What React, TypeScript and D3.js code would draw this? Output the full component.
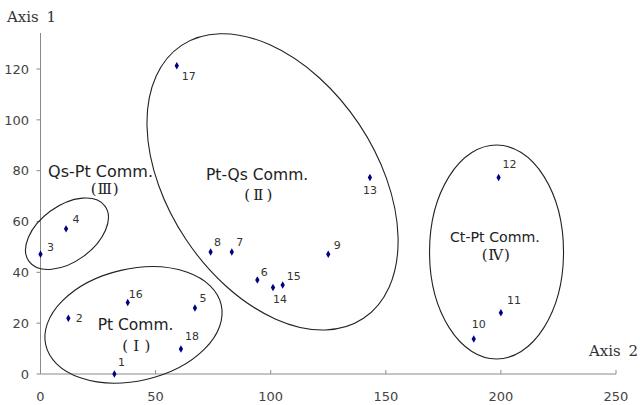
import React from "react";
import * as d3 from "d3";

// ---- data ----
const pointIds = ["1","2","3","4","5","6","7","8","9","10","11","12","13","14","15","16","17","18"];
const axis2Values = [32.1, 12.1, 0, 11.1, 67.1, 94.2, 83.1, 73.9, 125, 188.2, 200, 199, 143.1, 101, 105.2, 37.9, 59.2, 61];
const axis1Values = [0, 21.9, 47.1, 57.1, 26, 37, 48, 48, 47.1, 13.8, 24.1, 77.3, 77.3, 34, 35, 28.1, 121.3, 9.8];

const xTicks = [0, 50, 100, 150, 200, 250];
const yTicks = [0, 20, 40, 60, 80, 100, 120];

const groupNames = ["Pt Comm.", "Pt-Qs Comm.", "Qs-Pt Comm.", "Ct-Pt Comm."];
const groupNumerals = ["(\u2160)", "(\u2161)", "(\u2162)", "(\u2163)"];
// ellipse centres in data units (Axis 2, Axis 1)
const groupCenterX = [40.4, 100.8, 11.5, 198.1];
const groupCenterY = [19.3, 75.6, 55.2, 48.0];
// label anchors in data units
const nameX = [41.3, 94.1, 26.1, 197.4];
const nameY = [19.7, 78.6, 79.8, 53.8];
const numX = [41.6, 94.6, 27.9, 197.8];
const numY = [11.2, 70.5, 72.8, 46.9];

// ---- layout / style ----
const W = 640, H = 405;
const ellipseShape = [
  { rx: 90, ry: 56, rot: -13 },
  { rx: 164, ry: 104, rot: 56.3 },
  { rx: 47, ry: 28, rot: -36 },
  { rx: 67, ry: 107, rot: 0 },
];
const nameFontSize = [15.5, 15.5, 16, 14.2];
const labelOffsets: Record<string, [number, number]> = {
  "1": [7, -12], "2": [11, 0], "3": [10, -7], "4": [10, -10], "5": [8, -10],
  "6": [7, -8], "7": [8, -10], "8": [7, -10], "9": [9, -9], "10": [5, -15],
  "11": [13, -13], "12": [11, -13], "13": [0, 13], "14": [7, 11], "15": [11, -9],
  "16": [8, -9], "17": [12, 10], "18": [11, -13],
};

export default function App() {
  const x = d3.scaleLinear().domain([0, 250]).range([40.5, 616]);
  const y = d3.scaleLinear().domain([0, 120]).range([374, 69]);
  const yTop = 33;
  const diamond = d3.symbol().type(d3.symbolDiamond).size(16)() as string;
  const axisColor = "#8a8a8a";
  const sans = "'DejaVu Sans', sans-serif";
  const serif = "'DejaVu Serif', serif";

  return (
    <svg width={W} height={H} style={{ position: "absolute", left: 0, top: 0, background: "#fff" }}>
      {/* axes */}
      <line x1={x(0)} x2={x(250)} y1={y(0)} y2={y(0)} stroke={axisColor} strokeWidth={1} />
      <line x1={x(0)} x2={x(0)} y1={yTop} y2={y(0)} stroke={axisColor} strokeWidth={1} />
      {xTicks.map((t) => (
        <g key={"xt" + t}>
          {t > 0 && <line x1={x(t)} x2={x(t)} y1={y(0)} y2={y(0) - 4} stroke={axisColor} />}
          <text x={x(t)} y={401} textAnchor="middle" fontFamily={sans} fontSize={13} fill="#444">{t}</text>
        </g>
      ))}
      {yTicks.map((t) => (
        <g key={"yt" + t}>
          <line x1={x(0) - 4} x2={x(0)} y1={y(t)} y2={y(t)} stroke={axisColor} />
          <text x={29} y={y(t)} dy="0.36em" textAnchor="end" fontFamily={sans} fontSize={13} fill="#444">{t}</text>
        </g>
      ))}
      <text x={7} y={22} fontFamily={serif} fontSize={15} fill="#333" wordSpacing={3}>Axis 1</text>
      <text x={589} y={356} fontFamily={serif} fontSize={15} fill="#333" wordSpacing={3}>Axis 2</text>

      {/* group ellipses */}
      {groupNames.map((g, i) => {
        const cx = x(groupCenterX[i]);
        const cy = y(groupCenterY[i]);
        const s = ellipseShape[i];
        return (
          <g key={"g" + i}>
            <ellipse cx={cx} cy={cy} rx={s.rx} ry={s.ry} transform={`rotate(${s.rot} ${cx} ${cy})`}
              fill="none" stroke="#222" strokeWidth={1.1} />
            <text x={x(nameX[i])} y={y(nameY[i])} dy="0.36em" textAnchor="middle" fontFamily={sans} fontSize={nameFontSize[i]} fill="#222">{g}</text>
            <text x={x(numX[i]) - 14} y={y(numY[i])} dy="0.36em" textLength={28} lengthAdjust="spacing" fontFamily={serif} fontSize={15} fill="#222">{groupNumerals[i]}</text>
          </g>
        );
      })}

      {/* points */}
      {pointIds.map((id, i) => {
        const px = x(axis2Values[i]);
        const py = y(axis1Values[i]);
        const [dx, dy] = labelOffsets[id];
        return (
          <g key={"p" + id}>
            <path d={diamond} transform={`translate(${px},${py})`} fill="#000080" />
            <text x={px + dx} y={py + dy} dy="0.36em" textAnchor="middle" fontFamily={sans} fontSize={11} fill="#333">{id}</text>
          </g>
        );
      })}
    </svg>
  );
}
